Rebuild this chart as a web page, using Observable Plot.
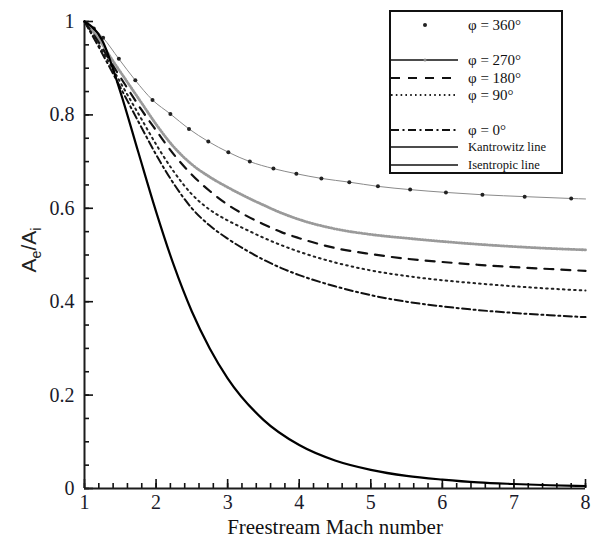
<!DOCTYPE html>
<html><head><meta charset="utf-8">
<script src="https://cdn.jsdelivr.net/npm/d3@7"></script>
<script src="https://cdn.jsdelivr.net/npm/@observablehq/plot@0.6"></script>
<style>body{margin:0;background:#fff}</style>
</head><body><div id="chart"></div>
<script>
// Kantrowitz line (thin gray)
const machKan = [1.0,1.13,1.26,1.48,1.71,1.95,2.2,2.46,2.73,3.01,3.31,3.64,3.96,4.31,4.7,5.1,5.55,6.05,6.56,7.15,7.8,8.0];
const areaKan = [1.0,0.985,0.965,0.92,0.874,0.832,0.802,0.77,0.743,0.72,0.70,0.685,0.674,0.664,0.656,0.647,0.64,0.634,0.629,0.625,0.621,0.62];
// phi = 360 deg (dots)
const mach360 = [1.13,1.26,1.48,1.71,1.95,2.2,2.46,2.73,3.01,3.31,3.64,3.96,4.31,4.7,5.1,5.55,6.05,6.56,7.15,7.8];
const area360 = [0.985,0.965,0.92,0.874,0.832,0.802,0.77,0.743,0.72,0.70,0.685,0.674,0.664,0.656,0.647,0.64,0.634,0.629,0.625,0.621];
// common Mach stations of the four phi curves
const machPhi = [1.0,1.2,1.4,1.6,1.8,2.0,2.25,2.5,2.75,3.0,3.25,3.5,3.75,4.0,4.5,5.0,5.5,6.0,6.5,7.0,7.5,8.0];
const area270 = [1.0,0.962,0.915,0.87,0.825,0.78,0.731,0.694,0.667,0.645,0.625,0.607,0.59,0.576,0.556,0.544,0.536,0.529,0.523,0.518,0.514,0.511];
const area180 = [1.0,0.955,0.905,0.857,0.81,0.767,0.715,0.672,0.637,0.608,0.585,0.566,0.549,0.536,0.515,0.502,0.492,0.485,0.479,0.474,0.47,0.466];
const area90  = [1.0,0.95,0.897,0.843,0.79,0.737,0.678,0.63,0.597,0.574,0.555,0.537,0.521,0.507,0.484,0.467,0.455,0.446,0.439,0.433,0.428,0.424];
const area0   = [1.0,0.945,0.888,0.83,0.772,0.715,0.652,0.6,0.563,0.535,0.511,0.49,0.472,0.457,0.433,0.414,0.4,0.39,0.382,0.376,0.371,0.367];
// Isentropic line
const machIse = [1.0,1.25,1.5,1.75,2.0,2.25,2.5,2.75,3.0,3.5,4.0,4.5,5.0,5.5,6.0,6.5,7.0,7.5,8.0];
const areaIse = [1.0,0.959,0.85,0.721,0.593,0.477,0.379,0.3,0.236,0.147,0.093,0.060,0.040,0.027,0.019,0.013,0.0096,0.007,0.0053];

const xMajor = [1,2,3,4,5,6,7,8];
const yMajor = [0,0.2,0.4,0.6,0.8,1];
const xMinor = d3.range(1, 8.001, 0.2);
const yMinor = d3.range(0, 1.001, 0.05);
const legendLabels = ["φ = 360°","φ = 270°","φ = 180°","φ = 90°","φ = 0°","Kantrowitz line","Isentropic line"];
const xTitle = "Freestream Mach number";

const toRows = (ms, as) => ms.map((m, i) => ({M: m, A: as[i]}));
const kan = toRows(machKan, areaKan);
const d360 = toRows(mach360, area360);
const d270 = toRows(machPhi, area270);
const d180 = toRows(machPhi, area180);
const d90 = toRows(machPhi, area90);
const d0 = toRows(machPhi, area0);
const ise = toRows(machIse, areaIse);

const serif = "'Liberation Serif','Times New Roman',serif";
const ink = "#111";

const chart = Plot.plot({
  width: 601, height: 548,
  marginLeft: 84, marginRight: 16, marginTop: 21, marginBottom: 60,
  x: {domain: [1, 8]},
  y: {domain: [0, 1]},
  marks: [
    Plot.axisX({ticks: xMajor, tickSize: 0, tickPadding: 6, tickFormat: d => String(d), fontSize: 20, fontFamily: serif, fill: "#1a1a2a", label: null}),
    Plot.axisY({ticks: yMajor, tickSize: 0, tickPadding: 10, tickFormat: d => String(d), fontSize: 20, fontFamily: serif, fill: "#1a1a2a", label: null}),
    Plot.ruleX(xMinor, {x: d => d, y1: 0, y2: 0, insetTop: -5, stroke: ink, strokeWidth: 1.6}),
    Plot.ruleX(xMajor, {x: d => d, y1: 0, y2: 0, insetTop: -9, stroke: ink, strokeWidth: 1.6}),
    Plot.ruleY(yMinor, {y: d => d, x1: 1, x2: 1, insetRight: -5, stroke: ink, strokeWidth: 1.6}),
    Plot.ruleY(yMajor, {y: d => d, x1: 1, x2: 1, insetRight: -9, stroke: ink, strokeWidth: 1.6}),
    Plot.ruleX([1], {strokeWidth: 2, stroke: "#1c1c1c"}),
    Plot.ruleY([0], {strokeWidth: 2, stroke: "#1c1c1c"}),
    Plot.line(kan, {x: "M", y: "A", stroke: "#8a8a8a", strokeWidth: 1, curve: "monotone-x"}),
    Plot.dot(d360, {x: "M", y: "A", r: 2, fill: "#222", stroke: "none"}),
    Plot.line(d270, {x: "M", y: "A", stroke: "#9a9a9a", strokeWidth: 2.8, strokeDasharray: "1,1.8", curve: "monotone-x"}),
    Plot.line(d180, {x: "M", y: "A", stroke: "#111", strokeWidth: 2.2, strokeDasharray: "9,8", curve: "monotone-x"}),
    Plot.line(d90, {x: "M", y: "A", stroke: "#222", strokeWidth: 2, strokeDasharray: "1.6,4", curve: "monotone-x"}),
    Plot.line(d0, {x: "M", y: "A", stroke: "#111", strokeWidth: 2, strokeDasharray: "8,3.5,2,3.5", curve: "monotone-x"}),
    Plot.line(ise, {x: "M", y: "A", stroke: "#000", strokeWidth: 2.2, curve: "monotone-x"}),
    Plot.text([xTitle], {text: d => d, frameAnchor: "bottom", dy: 45, fontSize: 21, fontFamily: serif, fill: "#111"})
  ]
});
document.getElementById("chart").appendChild(chart);

const svg = d3.select(chart);
// y axis title with subscripts
const yt = svg.append("text")
  .attr("transform", "translate(36,250) rotate(-90)")
  .attr("text-anchor", "middle")
  .attr("fill", "#222")
  .style("font-family", "'Liberation Sans',Arial,sans-serif")
  .style("font-size", "21px");
yt.append("tspan").text("A");
yt.append("tspan").attr("dy", 5).style("font-size", "14px").text("e");
yt.append("tspan").attr("dy", -5).text("/A");
yt.append("tspan").attr("dy", 5).style("font-size", "14px").text("i");

// legend
const lg = svg.append("g");
lg.append("rect").attr("x", 390).attr("y", 11).attr("width", 172).attr("height", 162)
  .attr("fill", "white").attr("stroke", "#111").attr("stroke-width", 2);
const rowsY = [25, 60, 78, 95, 130, 147, 165];
const styles = [
  null,
  {stroke: "#111", w: 1.6, dash: null},
  {stroke: "#111", w: 2, dash: "9,8"},
  {stroke: "#222", w: 1.8, dash: "1.6,3.2"},
  {stroke: "#111", w: 1.8, dash: "8,3.5,2,3.5"},
  {stroke: "#111", w: 1.6, dash: null},
  {stroke: "#111", w: 1.6, dash: null}
];
legendLabels.forEach((lab, i) => {
  const y = rowsY[i];
  const s = styles[i];
  if (s) {
    const ln = lg.append("line").attr("x1", 391).attr("x2", 458).attr("y1", y).attr("y2", y)
      .attr("stroke", s.stroke).attr("stroke-width", s.w);
    if (s.dash) ln.attr("stroke-dasharray", s.dash);
  }
  if (i === 0) lg.append("circle").attr("cx", 425).attr("cy", y).attr("r", 2).attr("fill", "#222");
  if (i === 1) lg.append("circle").attr("cx", 425).attr("cy", y).attr("r", 1.5).attr("fill", "#888");
  const small = i >= 5;
  lg.append("text").attr("x", 468).attr("y", y).attr("dy", "0.35em")
    .attr("text-anchor", "start")
    .attr("fill", "#111")
    .style("font-family", serif)
    .style("font-size", small ? "12.5px" : "15px")
    .text(lab);
});
</script>
</body></html>
